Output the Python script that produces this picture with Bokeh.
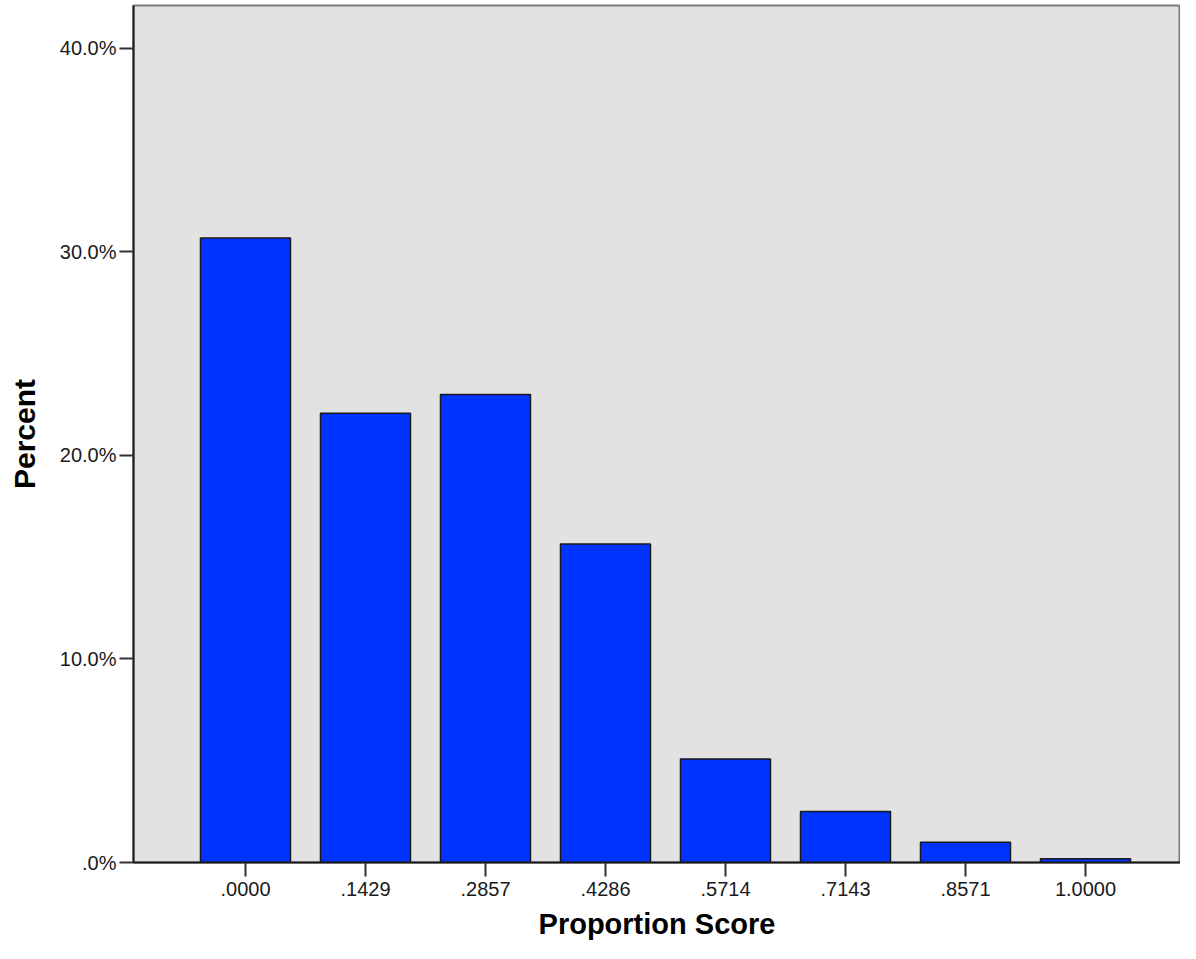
from bokeh.plotting import figure
from bokeh.models import FixedTicker, Range1d
from bokeh.embed import file_html
from bokeh.resources import INLINE

# Data
categories = [".0000", ".1429", ".2857", ".4286", ".5714", ".7143", ".8571", "1.0000"]
percents = [30.68, 22.07, 23.0, 15.65, 5.08, 2.51, 1.0, 0.18]
y_ticks = [0, 10, 20, 30, 40]
y_tick_labels = [".0%", "10.0%", "20.0%", "30.0%", "40.0%"]

xs = list(range(len(categories)))

p = figure(width=1180, height=943, output_backend="svg", toolbar_location=None,
           x_range=Range1d(-0.9333, 7.7917), y_range=Range1d(0, 42.11),
           min_border_left=133, min_border_right=0, min_border_top=5, min_border_bottom=81)

p.vbar(x=xs, top=percents, width=0.75, bottom=0,
       fill_color="#0033ff", line_color="#1a1a1a", line_width=1.5)

p.background_fill_color = "#e2e2e2"
p.border_fill_color = "white"
p.outline_line_color = "#7a7a7a"
p.outline_line_width = 2
p.xgrid.visible = False
p.ygrid.visible = False

for ax in (p.xaxis[0], p.yaxis[0]):
    ax.axis_line_color = "#1a1a1a"
    ax.axis_line_width = 2
    ax.major_tick_line_color = "#333333"
    ax.major_tick_line_width = 2
    ax.major_tick_out = 14
    ax.major_tick_in = 0
    ax.minor_tick_line_color = None
    ax.major_label_text_font = "Liberation Sans"
    ax.major_label_text_font_size = "20px"
    ax.major_label_text_color = "#1a1a1a"
    ax.axis_label_text_font = "Liberation Sans"
    ax.axis_label_text_font_style = "bold"
    ax.axis_label_text_color = "black"

p.xaxis.ticker = FixedTicker(ticks=xs)
p.xaxis.major_label_overrides = {x: c for x, c in zip(xs, categories)}
p.xaxis.major_label_standoff = 5
p.xaxis.axis_label = "Proportion Score"
p.xaxis.axis_label_text_font_size = "29px"
p.xaxis.axis_label_standoff = 9

p.yaxis.ticker = FixedTicker(ticks=y_ticks)
p.yaxis.major_label_overrides = {t: l for t, l in zip(y_ticks, y_tick_labels)}
p.yaxis.major_label_standoff = 3
p.yaxis.axis_label = "Percent"
p.yaxis.axis_label_text_font_size = "30px"
p.yaxis.axis_label_standoff = 16

open("out.html", "w").write(file_html(p, INLINE))
